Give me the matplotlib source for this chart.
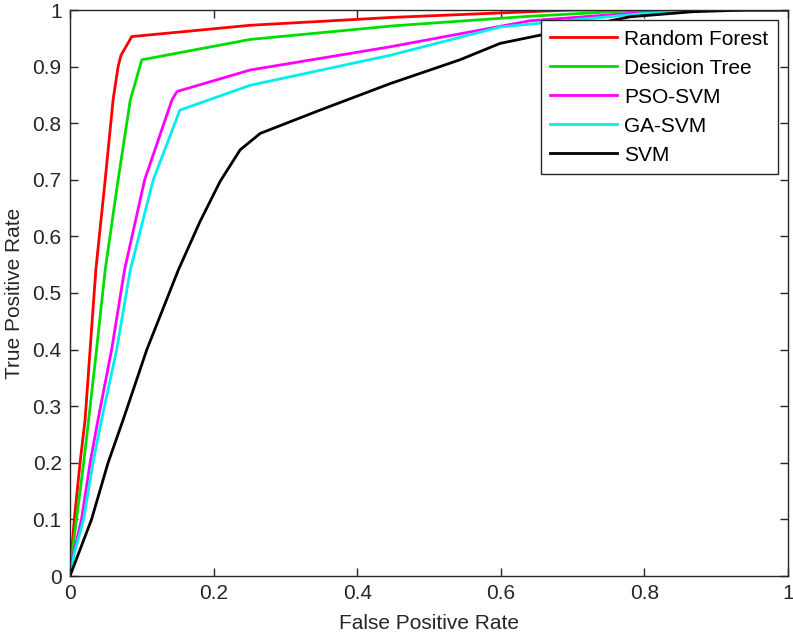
import numpy as np
from matplotlib import pyplot as plt

plt.rcParams['font.family'] = ['Liberation Sans', 'DejaVu Sans']

labels = ["Random Forest", "Desicion Tree", "PSO-SVM", "GA-SVM", "SVM"]
colors = ["#ff0000", "#00dd00", "#ff00ff", "#00eeee", "#000000"]

rf_fpr = [0, 0.002, 0.006, 0.014, 0.021, 0.028, 0.036, 0.049, 0.060, 0.067, 0.071, 0.086, 0.251, 0.45, 0.641, 0.70, 1.0]
rf_tpr = [0, 0.04, 0.10, 0.20, 0.276, 0.40, 0.541, 0.70, 0.841, 0.90, 0.92, 0.953, 0.973, 0.987, 0.997, 1.0, 1.0]

dt_fpr = [0, 0.003, 0.009, 0.019, 0.026, 0.037, 0.049, 0.067, 0.084, 0.100, 0.251, 0.45, 0.641, 0.80, 1.0]
dt_tpr = [0, 0.04, 0.10, 0.20, 0.276, 0.40, 0.541, 0.70, 0.841, 0.912, 0.948, 0.972, 0.989, 1.0, 1.0]

pso_fpr = [0, 0.005, 0.016, 0.028, 0.039, 0.058, 0.076, 0.104, 0.142, 0.149, 0.251, 0.446, 0.641, 0.80, 0.88, 1.0]
pso_tpr = [0, 0.04, 0.10, 0.20, 0.276, 0.40, 0.541, 0.70, 0.841, 0.856, 0.894, 0.935, 0.981, 0.996, 1.0, 1.0]

ga_fpr = [0, 0.006, 0.019, 0.032, 0.044, 0.065, 0.084, 0.116, 0.153, 0.193, 0.251, 0.446, 0.599, 0.80, 0.90, 1.0]
ga_tpr = [0, 0.04, 0.10, 0.20, 0.276, 0.40, 0.541, 0.70, 0.823, 0.841, 0.867, 0.920, 0.970, 0.994, 1.0, 1.0]

svm_fpr = [0, 0.030, 0.053, 0.074, 0.107, 0.151, 0.181, 0.209, 0.237, 0.265, 0.348, 0.446, 0.543, 0.599, 0.645, 0.78, 0.868, 0.943, 1.0]
svm_tpr = [0, 0.10, 0.20, 0.276, 0.40, 0.541, 0.626, 0.697, 0.753, 0.782, 0.823, 0.870, 0.912, 0.941, 0.953, 0.988, 0.997, 1.0, 1.0]

curves = [(rf_fpr, rf_tpr), (dt_fpr, dt_tpr), (pso_fpr, pso_tpr), (ga_fpr, ga_tpr), (svm_fpr, svm_tpr)]


def plot_roc():
    fig = plt.figure(figsize=(7.93, 6.34), dpi=100)
    ax = fig.add_axes([70 / 793, 58 / 634, 718 / 793, 566 / 634])
    for (fpr, tpr), lab, col in zip(curves, labels, colors):
        ax.plot(fpr, tpr, color=col, lw=2, label=lab)

    ax.set_xlim(0, 1)
    ax.set_ylim(0, 1)
    ax.set_xticks(np.arange(0, 1.01, 0.2))
    ax.set_yticks(np.arange(0, 1.01, 0.1))
    ax.set_xticklabels(["0", "0.2", "0.4", "0.6", "0.8", "1"])
    ax.set_yticklabels(["0"] + ["%.1f" % v for v in np.arange(0.1, 0.95, 0.1)] + ["1"])
    ax.tick_params(direction='in', length=6, width=1, top=True, right=True,
                   labelsize=15, colors='#262626', pad=6)
    for s in ax.spines.values():
        s.set_linewidth(1)
        s.set_color('#262626')

    ax.set_xlabel("False Positive Rate", fontsize=15, color='#262626', labelpad=8)
    ax.set_ylabel("True Positive Rate", fontsize=15, color='#262626', labelpad=6)

    leg = ax.legend(loc='upper right', fontsize=15, fancybox=False, framealpha=1,
                    edgecolor='#262626', handlelength=3.2, labelspacing=0.48,
                    borderpad=0.45, handletextpad=0.35, borderaxespad=0.5)
    leg.get_frame().set_linewidth(1)

    fig.savefig("out.png", dpi=100)


def main():
    plot_roc()


if __name__ == "__main__":
    main()
